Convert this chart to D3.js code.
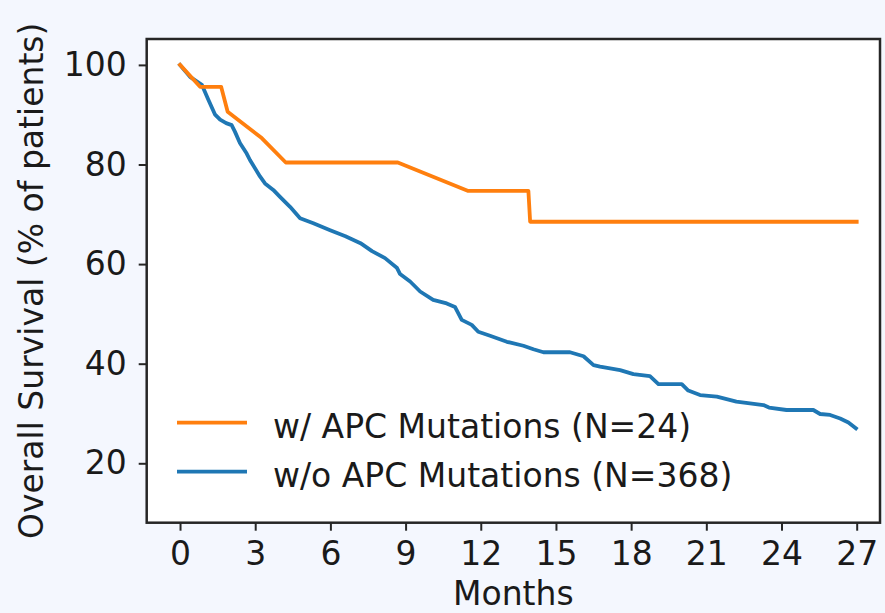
<!DOCTYPE html>
<html lang="en">
<head>
<meta charset="UTF-8">
<script src="https://d3js.org/d3.v7.min.js"></script>
<title>Overall Survival by APC Mutation</title>
<style>
  body { margin: 0; background: #f4f7fe; }
  svg { display: block; }
  text { font-family: 'DejaVu Sans', sans-serif; fill: #1a1a1a; }
  .axis path, .axis line { stroke: #262626; }
  .axis path { stroke-width: 2.5px; }
  .axis line { stroke-width: 2px; }
  .axis text { font-size: 33px; }
  .curve { fill: none; stroke-width: 3.8px; stroke-linejoin: round; stroke-linecap: square; }
</style>
</head>
<body>
<svg width="885" height="613"></svg>
<script>
// Kaplan-Meier style curves
const monthsApc = [0, 0.8, 1.64, 1.9, 3.26, 4.22, 8.69, 11.5, 13.9, 13.97, 27.0];
const survivalApc = [100, 95.6, 95.6, 90.6, 85.3, 80.4, 80.4, 74.7, 74.7, 68.5, 68.5];

const monthsNoApc = [0, 0.4, 0.87, 1.13, 1.4, 1.6, 1.84, 2.06, 2.19, 2.39, 2.66, 2.79, 3.19, 3.39,
  3.72, 3.99, 4.39, 4.79, 5.32, 5.99, 6.6, 7.2, 7.66, 8.18, 8.66, 8.78, 9.18, 9.58, 10.1, 10.64,
  10.97, 11.24, 11.64, 11.9, 12.37, 13.04, 13.7, 14.1, 14.5, 15.56, 16.1, 16.5, 16.76, 17.56,
  18.09, 18.75, 19.09, 20.02, 20.28, 20.75, 21.42, 22.2, 23.28, 23.5, 24.2, 25.27, 25.54, 25.94,
  26.34, 26.67, 26.97];
const survivalNoApc = [100, 97.6, 96.0, 93.0, 90.0, 89.0, 88.3, 87.9, 86.6, 84.3, 82.2, 80.9, 77.6, 76.2,
  74.9, 73.5, 71.5, 69.2, 68.2, 66.8, 65.6, 64.2, 62.6, 61.2, 59.2, 58.0, 56.5, 54.5, 52.8, 52.1,
  51.4, 48.8, 47.8, 46.4, 45.6, 44.4, 43.6, 42.9, 42.3, 42.3, 41.5, 39.7, 39.4, 38.7,
  37.9, 37.5, 35.9, 35.9, 34.6, 33.7, 33.4, 32.4, 31.7, 31.2, 30.7, 30.7, 29.9, 29.7,
  29.0, 28.2, 27.0];

const seriesNames = ["w/ APC Mutations (N=24)", "w/o APC Mutations (N=368)"];
const seriesColors = ["#ff7f0e", "#1f77b4"];
const xTicks = [0, 3, 6, 9, 12, 15, 18, 21, 24, 27];
const yTicks = [20, 40, 60, 80, 100];

const svg = d3.select("svg");
const plot = { left: 146.7, right: 880, top: 39, bottom: 522.7 };

const x = d3.scaleLinear().domain([-1.33, 27.93]).range([plot.left, plot.right]);
const y = d3.scaleLinear().domain([8.07, 105.2]).range([plot.bottom, plot.top]);

// plot background
svg.append("rect")
  .attr("x", plot.left).attr("y", plot.top)
  .attr("width", plot.right - plot.left).attr("height", plot.bottom - plot.top)
  .attr("fill", "#ffffff");

const series = [
  monthsApc.map((m, i) => ({ m, s: survivalApc[i] })),
  monthsNoApc.map((m, i) => ({ m, s: survivalNoApc[i] }))
];

const line = d3.line().x(d => x(d.m)).y(d => y(d.s));

// draw blue first, orange on top like the original
[1, 0].forEach(i => {
  svg.append("path")
    .datum(series[i])
    .attr("class", "curve")
    .attr("stroke", seriesColors[i])
    .attr("d", line);
});

// frame
svg.append("rect")
  .attr("x", plot.left).attr("y", plot.top)
  .attr("width", plot.right - plot.left).attr("height", plot.bottom - plot.top)
  .attr("fill", "none").attr("stroke", "#262626").attr("stroke-width", 2.5);

// axes
svg.append("g")
  .attr("class", "axis")
  .attr("transform", `translate(0,${plot.bottom})`)
  .call(d3.axisBottom(x).tickValues(xTicks).tickSize(8).tickPadding(11).tickSizeOuter(0))
  .call(g => g.select(".domain").remove());

svg.append("g")
  .attr("class", "axis")
  .attr("transform", `translate(${plot.left},0)`)
  .call(d3.axisLeft(y).tickValues(yTicks).tickSize(8).tickPadding(12).tickSizeOuter(0))
  .call(g => g.select(".domain").remove());

// axis labels
svg.append("text")
  .attr("x", (plot.left + plot.right) / 2)
  .attr("y", 605)
  .attr("text-anchor", "middle")
  .style("font-size", "33px")
  .text("Months");

svg.append("text")
  .attr("transform", `translate(43,${(plot.top + plot.bottom) / 2}) rotate(-90)`)
  .attr("text-anchor", "middle")
  .style("font-size", "33px")
  .text("Overall Survival (% of patients)");

// legend
const legendY = [422.7, 471.7];
seriesNames.forEach((name, i) => {
  svg.append("line")
    .attr("x1", 177).attr("x2", 247)
    .attr("y1", legendY[i]).attr("y2", legendY[i])
    .attr("stroke", seriesColors[i])
    .attr("stroke-width", 3.8);
  svg.append("text")
    .attr("x", 273)
    .attr("y", legendY[i] + 15.5)
    .style("font-size", "33px")
    .text(name);
});
</script>
</body>
</html>
